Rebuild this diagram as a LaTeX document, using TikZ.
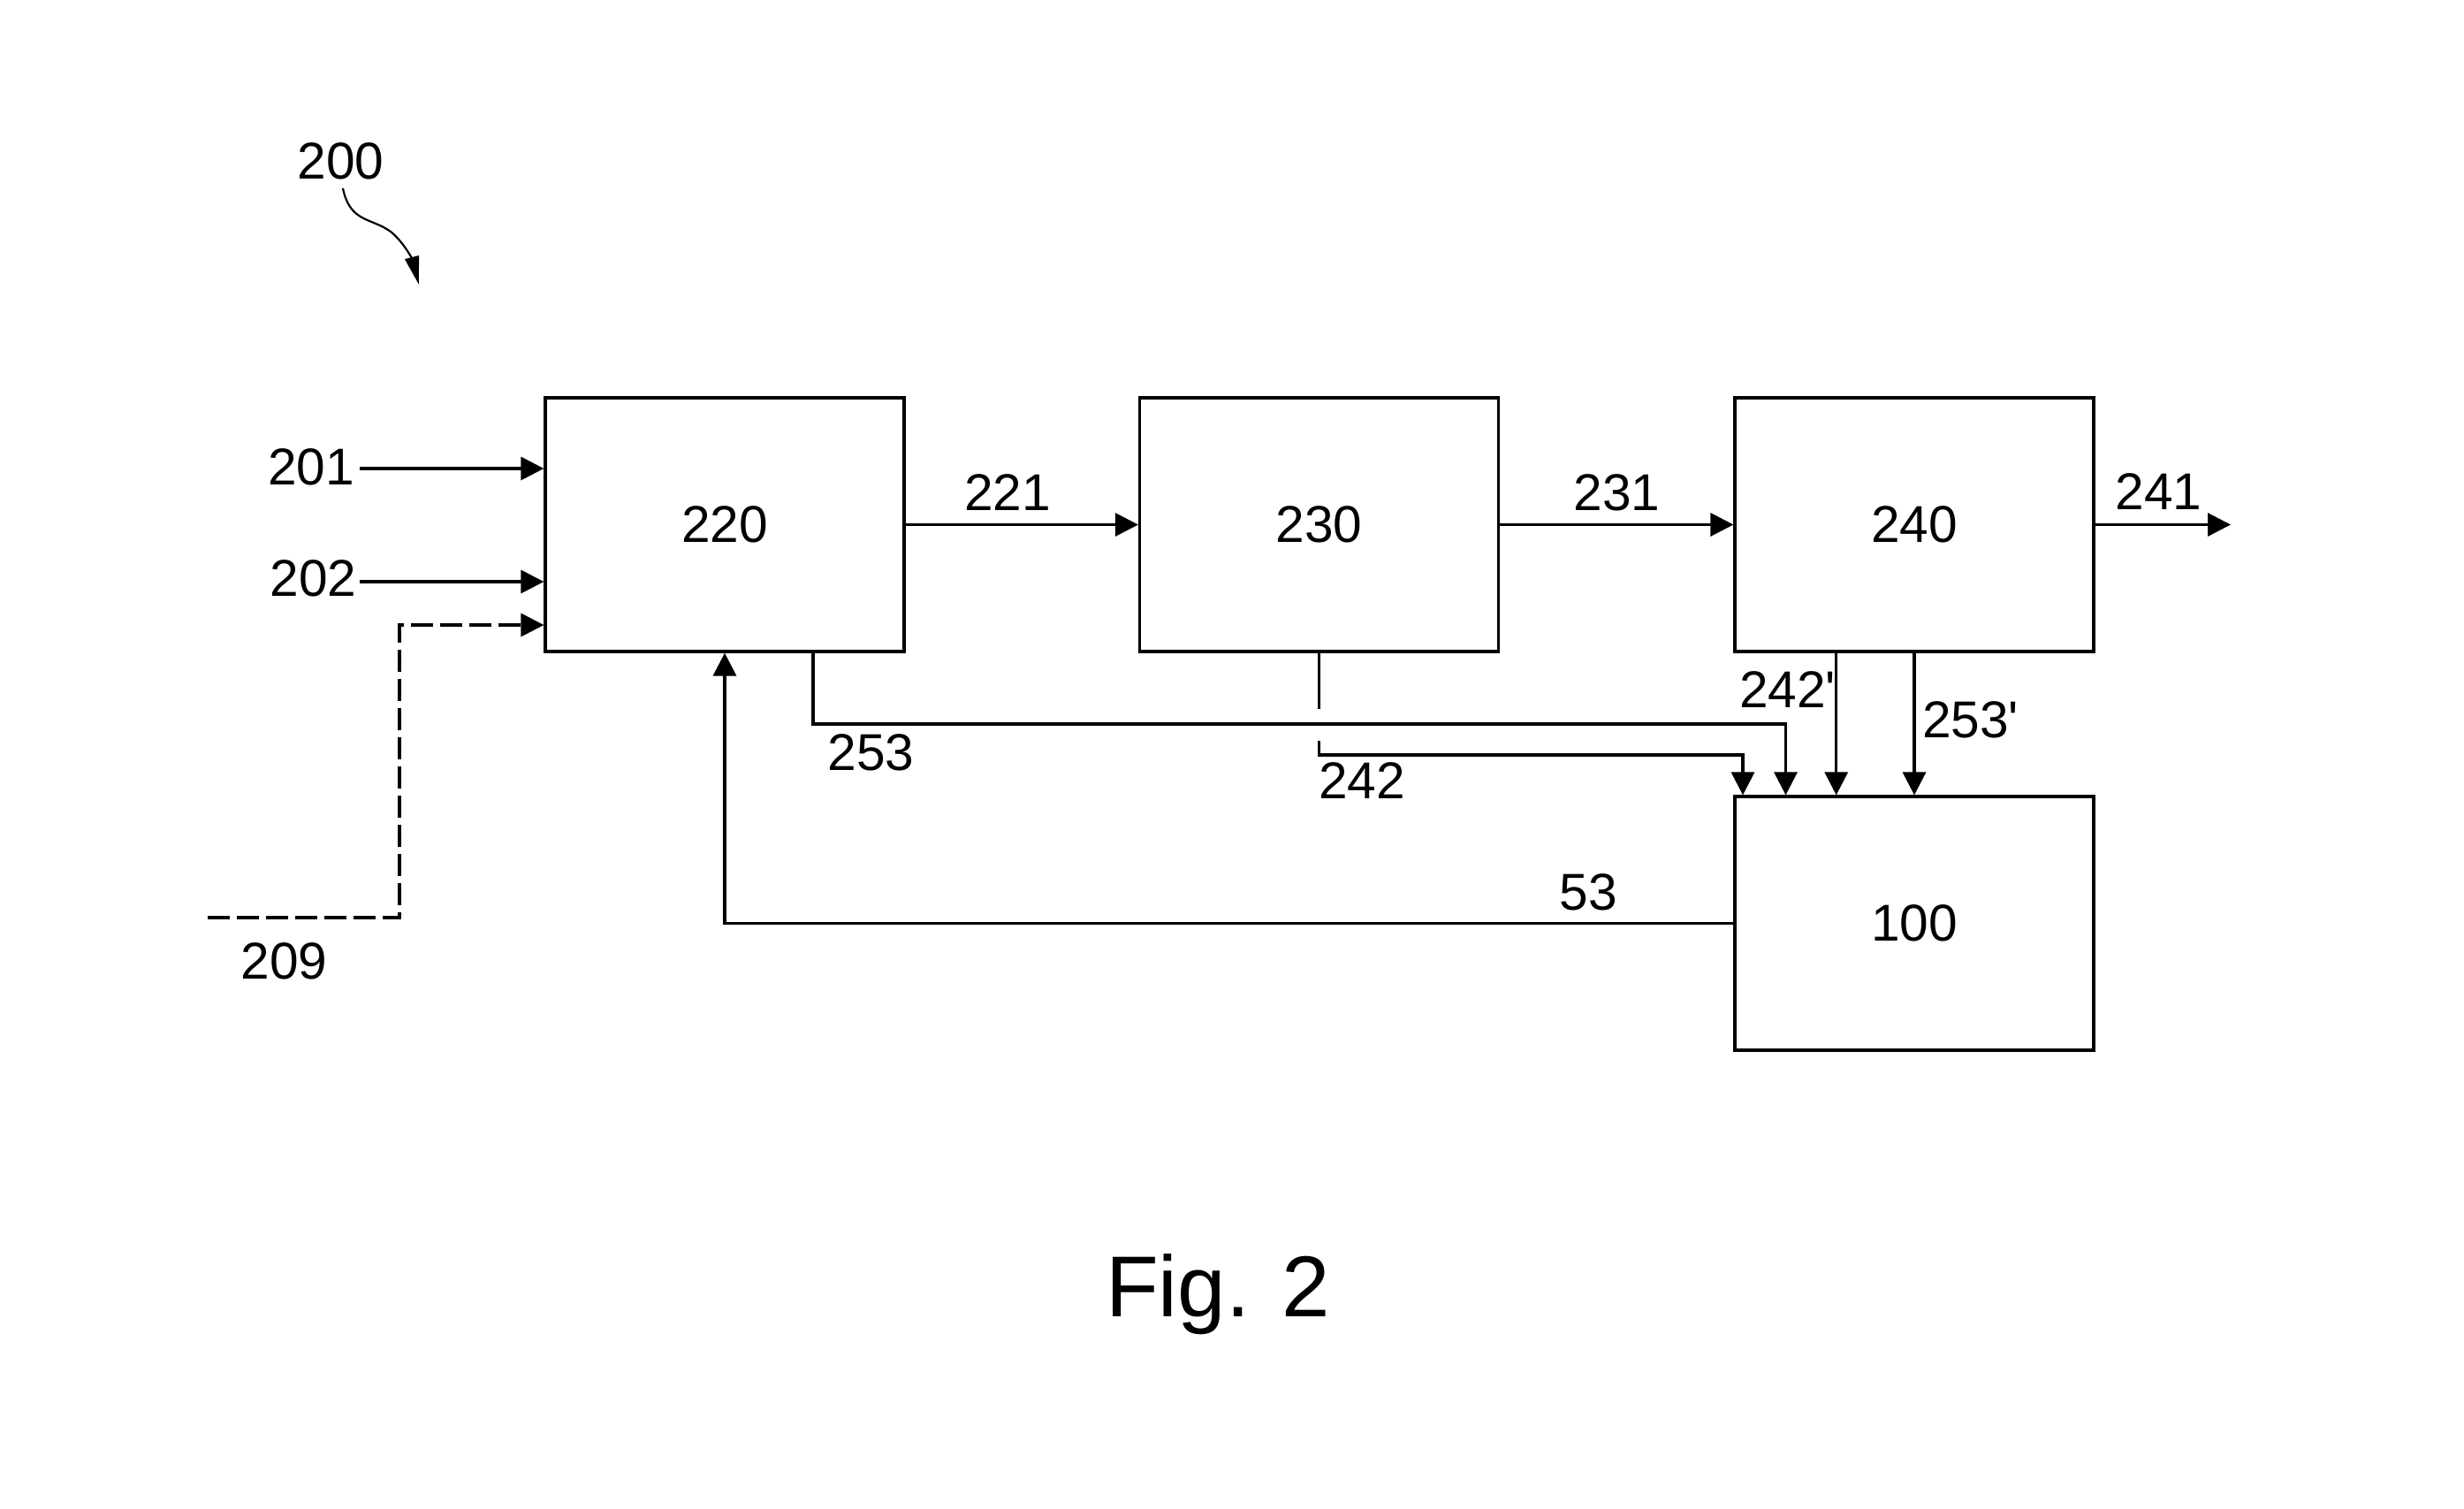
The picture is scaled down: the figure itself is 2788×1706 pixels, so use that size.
\documentclass[tikz,border=0pt]{standalone}
\usepackage{fontspec}
\setmainfont{Liberation Sans}
\newfontfamily\lsans{Liberation Sans}
\usetikzlibrary{arrows.meta}
\begin{document}
\begin{tikzpicture}[x=1pt,y=-1pt,
  blk/.style={draw,line width=3.2pt,inner sep=0pt,minimum width=406pt,minimum height=287pt,font=\lsans\fontsize{58.6pt}{70pt}\selectfont},
  lbl/.style={inner sep=0pt,font=\lsans\fontsize{58.6pt}{70pt}\selectfont},
  conn/.style={line width=3.2pt,-{Triangle[length=26pt,width=26pt]}},
  plain/.style={line width=3.2pt},
  dsh/.style={line width=3.2pt,dash pattern=on 25pt off 8pt}]
\useasboundingbox (0,0) rectangle (2788,1706);
% blocks
\node[blk] (b220) at (820,593.5) {220};
\node[blk] (b230) at (1492.5,593.5) {230};
\node[blk] (b240) at (2166,593.5) {240};
\node[blk] (b100) at (2166,1044.5) {100};
% labels
\node[lbl] (l200) at (385.5,182) {200};
\node[lbl] (l201) at (352,528) {201};
\node[lbl] (l202) at (354.5,654) {202};
\node[lbl] (l209) at (321.5,1087.5) {209};
\node[lbl] (l221) at (1140,557) {221};
\node[lbl] (l231) at (1829.5,557) {231};
\node[lbl] (l241) at (2442.5,556) {241};
\node[lbl] (l253) at (985.5,851) {253};
\node[lbl] (l242) at (1541,883.5) {242};
\node[lbl,anchor=base west] (l242p) at (1968,800) {242'};
\node[lbl,anchor=base west] (l253p) at (2175,834) {253'};
\node[lbl] (l53) at (1797.5,1009.5) {53};
\node[inner sep=0pt,anchor=base,font=\lsans\fontsize{97.8pt}{110pt}\selectfont] (fig) at (1378,1489) {Fig. 2};
% reference arrow 200
\coordinate (c200a) at (388,213);
\coordinate (c200b) at (474,322);
\draw[line width=2.2pt,-{Triangle[length=32pt,width=16pt]}] (c200a) .. controls (396,252) and (420,246) .. (442,262) .. controls (458,275) and (467,295) .. (c200b);
% inputs
\coordinate (s201) at (407,530);
\coordinate (s202) at (407,658);
\draw[conn] (s201) -- (s201 -| b220.west);
\draw[conn] (s202) -- (s202 -| b220.west);
\coordinate (s209) at (235,1038);
\coordinate (k209a) at (452,1038);
\coordinate (k209b) at (452,707);
\draw[dsh,-{Triangle[length=26pt,width=26pt]}] (s209) -- (k209a) -- (k209b) -- (k209b -| b220.west);
% chain
\draw[conn] (b220.east) -- (b230.west);
\draw[conn] (b230.east) -- (b240.west);
\coordinate (e241) at (2524,593.5);
\draw[conn] (b240.east) -- (e241);
% 253
\coordinate (t253) at (920,737);
\coordinate (k253a) at (920,819);
\coordinate (k253b) at (2020.5,819);
\draw[conn] (t253 |- b220.south) -- (k253a) -- (k253b) -- (k253b |- b100.north);
% 242 with gap at crossing
\coordinate (g242a) at (1492.5,801.7);
\coordinate (g242b) at (1492.5,837.7);
\coordinate (k242a) at (1492.5,854);
\coordinate (k242b) at (1972,854);
\draw[plain] (b230.south) -- (g242a);
\draw[conn] (g242b) -- (k242a) -- (k242b) -- (k242b |- b100.north);
% 242' and 253'
\coordinate (x242p) at (2077.7,700);
\draw[conn] (x242p |- b240.south) -- (x242p |- b100.north);
\draw[conn] (b240.south) -- (b100.north);
% 53 feedback
\coordinate (k53) at (820,1044.5);
\draw[conn] (b100.west) -- (k53) -- (b220.south);
\end{tikzpicture}
\end{document}
